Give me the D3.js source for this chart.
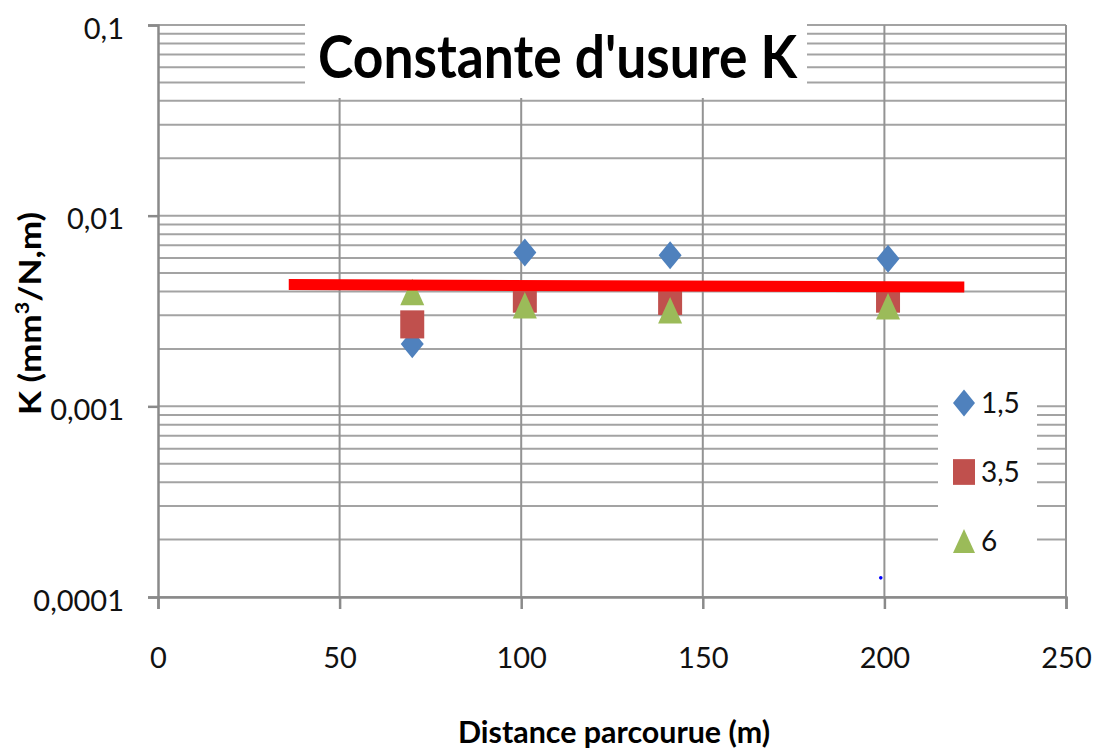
<!DOCTYPE html>
<html>
<head>
<meta charset="utf-8">
<script src="https://cdn.jsdelivr.net/npm/d3@7"></script>
<style>
  body { margin: 0; background: #fff; }
  svg { display: block; font-family: Lato, "Open Sans", sans-serif; }
</style>
</head>
<body>
<div id="chart"></div>
<script>
const distances = [70, 101, 141, 201];
const seriesNames = ["1,5", "3,5", "6"];
const k15 = [0.00212, 0.00641, 0.0062, 0.00594];
const k35 = [0.00269, 0.00367, 0.00357, 0.00367];
const k6 = [0.00398, 0.00339, 0.00319, 0.00335];
const meanX = [36, 222];
const meanK = [0.00435, 0.00422];
const strayX = [199];
const strayK = [0.000126];
const xTicks = [0, 50, 100, 150, 200, 250];
const yTicks = [0.0001, 0.001, 0.01, 0.1];
const yTickLabels = ["0,0001", "0,001", "0,01", "0,1"];
const colors = ["#4f81bd", "#c0504d", "#9bbb59"];

const width = 1097, height = 749;
const plot = {left: 158, right: 1066, top: 25, bottom: 597};

// excel-like markers, a bit taller than wide
const symDiamond = {draw(c, s) { const w = Math.sqrt(s) / 2, h = w * 1.22;
  c.moveTo(0, -h); c.lineTo(w, 0); c.lineTo(0, h); c.lineTo(-w, 0); c.closePath(); }};
const symSquare = {draw(c, s) { const w = Math.sqrt(s) / 2, h = w * 1.17;
  c.rect(-w, -h, 2 * w, 2 * h); }};
const symTriangle = {draw(c, s) { const w = Math.sqrt(s) / 2, h = w * 1.1;
  c.moveTo(0, -h); c.lineTo(w, h); c.lineTo(-w, h); c.closePath(); }};
const symbols = [symDiamond, symSquare, symTriangle];

const series = [k15, k35, k6].map((vals, i) => ({
  name: seriesNames[i], color: colors[i], symbol: symbols[i],
  points: distances.map((x, j) => ({x, k: vals[j]}))
}));

const x = d3.scaleLinear().domain([0, 250]).range([plot.left, plot.right]);
const y = d3.scaleLog().domain([0.0001, 0.1]).range([plot.bottom, plot.top]);

const svg = d3.select("#chart").append("svg")
    .attr("width", width)
    .attr("height", height);

svg.append("rect").attr("width", width).attr("height", height).attr("fill", "#fff");

// horizontal grid (1..9 per decade)
svg.append("g")
    .attr("stroke", "#a3a3a3")
    .attr("stroke-width", 2)
  .selectAll("line")
  .data(y.ticks())
  .join("line")
    .attr("x1", plot.left)
    .attr("x2", plot.right)
    .attr("y1", d => y(d))
    .attr("y2", d => y(d));

svg.append("g")
    .attr("stroke", "#939393")
    .attr("stroke-width", 2)
  .selectAll("line")
  .data(xTicks.slice(1))
  .join("line")
    .attr("x1", d => x(d))
    .attr("x2", d => x(d))
    .attr("y1", plot.top)
    .attr("y2", plot.bottom);

const yAxis = svg.append("g")
    .attr("transform", `translate(${plot.left},0)`)
    .call(d3.axisLeft(y).tickValues(yTicks).tickSize(10).tickPadding(24)
      .tickFormat((d, i) => yTickLabels[i]));

const xAxis = svg.append("g")
    .attr("transform", `translate(0,${plot.bottom})`)
    .call(d3.axisBottom(x).tickValues(xTicks).tickSize(12).tickPadding(38));

for (const ax of [yAxis, xAxis]) {
  ax.select(".domain").attr("stroke", "#8a8a8a").attr("stroke-width", 2.5);
  ax.selectAll(".tick line").attr("stroke", "#8a8a8a").attr("stroke-width", 2.5);
  ax.selectAll(".tick text")
      .attr("fill", "#111")
      .attr("font-size", 29)
      .attr("font-family", "Lato, sans-serif");
}
yAxis.selectAll(".tick text").attr("dy", "0.45em");

// markers
const marks = svg.append("g");
series.forEach(s => {
  marks.append("g")
      .attr("fill", s.color)
    .selectAll("path")
    .data(s.points)
    .join("path")
      .attr("transform", d => `translate(${x(d.x)},${y(d.k)})`)
      .attr("d", d3.symbol(s.symbol, s.symbol === symDiamond ? 529 : 576));
});

svg.append("g")
    .attr("fill", "#0000ff")
  .selectAll("circle")
  .data(strayX.map((d, i) => ({x: d, k: strayK[i]})))
  .join("circle")
    .attr("cx", d => x(d.x))
    .attr("cy", d => y(d.k))
    .attr("r", 1.8);

svg.append("path")
    .datum(meanX.map((d, i) => ({x: d, k: meanK[i]})))
    .attr("fill", "none")
    .attr("stroke", "#ff0000")
    .attr("stroke-width", 11)
    .attr("d", d3.line().x(d => x(d.x)).y(d => y(d.k)));

// title
svg.append("rect")
    .attr("x", 305).attr("y", 10)
    .attr("width", 502).attr("height", 88)
    .attr("fill", "#fff");

svg.append("text")
    .attr("x", 318)
    .attr("y", 78)
    .attr("font-size", 60)
    .attr("font-weight", "bold")
    .attr("textLength", 479)
    .attr("lengthAdjust", "spacingAndGlyphs")
    .text("Constante d'usure K");

// axis titles
svg.append("text")
    .attr("x", 458)
    .attr("y", 743)
    .attr("font-size", 30)
    .attr("font-weight", "bold")
    .attr("textLength", 312)
    .attr("lengthAdjust", "spacingAndGlyphs")
    .text("Distance parcourue (m)");

const yTitle = svg.append("text")
    .attr("transform", "translate(41,415) rotate(-90)")
    .attr("font-size", 31)
    .attr("font-weight", "bold")
    .attr("textLength", 203)
    .attr("lengthAdjust", "spacingAndGlyphs");
yTitle.append("tspan").text("K (mm");
yTitle.append("tspan").attr("font-size", 19).attr("dy", -12).text("3");
yTitle.append("tspan").attr("dy", 12).text("/N,m)");

// legend
svg.append("rect")
    .attr("x", 938).attr("y", 380)
    .attr("width", 99).attr("height", 186)
    .attr("fill", "#fff");

const legend = svg.append("g")
  .selectAll("g")
  .data(series)
  .join("g")
    .attr("transform", (d, i) => `translate(964,${403 + i * 69})`);

legend.append("path")
    .attr("fill", d => d.color)
    .attr("d", d => d3.symbol(d.symbol, d.symbol === symDiamond ? 484 : 484)());

legend.append("text")
    .attr("x", 17)
    .attr("dy", "0.36em")
    .attr("font-size", 28)
    .attr("fill", "#111")
    .text(d => d.name);
</script>
</body>
</html>
